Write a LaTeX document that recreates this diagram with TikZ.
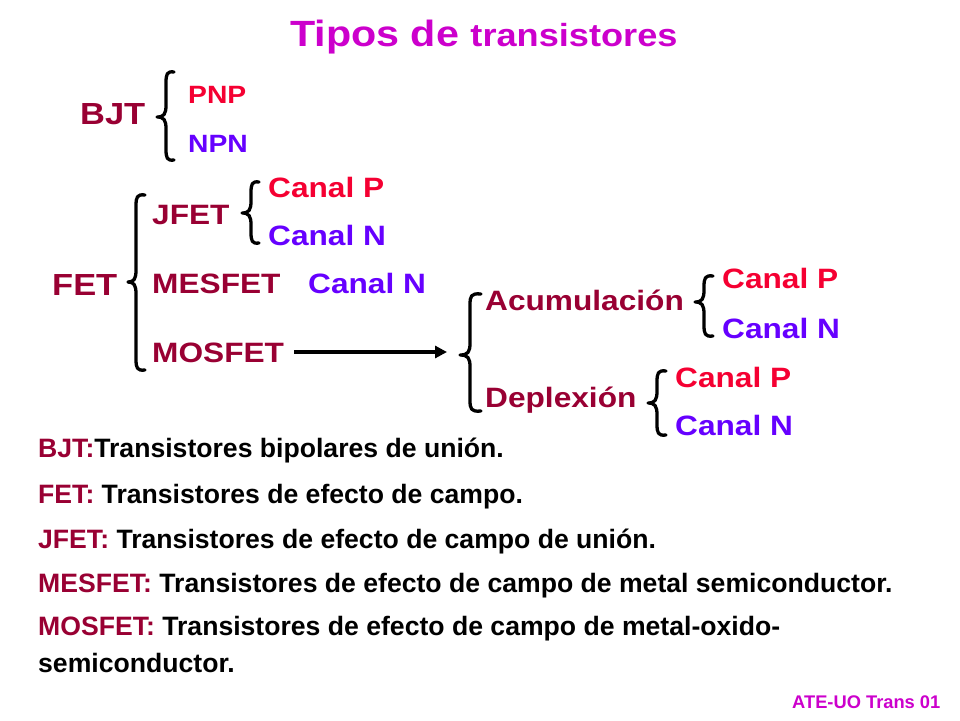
\documentclass[tikz,border=0pt]{standalone}
\usepackage{fontspec}
\setmainfont{Liberation Sans}
\newfontfamily\diagfont{Liberation Sans}[FakeStretch=1.13]
\usetikzlibrary{arrows.meta}
\definecolor{dred}{HTML}{990033}
\definecolor{pred}{HTML}{F50032}
\definecolor{ppur}{HTML}{6600FF}
\definecolor{tmag}{HTML}{CC00CC}
\tikzset{
  lvl/.style={anchor=base west, inner sep=0pt, font=\diagfont\bfseries\fontsize{28}{30}\selectfont},
  top/.style={anchor=base west, inner sep=0pt, text=dred, font=\diagfont\bfseries\fontsize{30.5}{32}\selectfont},
  small/.style={anchor=base west, inner sep=0pt, font=\diagfont\bfseries\fontsize{25}{27}\selectfont},
  desc/.style={anchor=base west, inner sep=0pt, font=\bfseries\fontsize{26.6}{28}\selectfont},
  bracestyle/.style={line width=3.3pt, line cap=round, line join=round},
}
% #1 tip x, #2 spine x, #3 end x, #4 top y, #5 tip y, #6 bottom y
\newcommand\mybrace[6]{\draw[bracestyle]
  (#3,{#4+1}) .. controls ({#2+1},#4) and (#2,{#4+3}) .. (#2,{#4+12})
  -- (#2,{#5-12}) .. controls (#2,{#5-3}) and ({#2-2},#5) .. (#1,#5)
  .. controls ({#2-2},#5) and (#2,{#5+3}) .. (#2,{#5+12})
  -- (#2,{#6-12}) .. controls (#2,{#6-3}) and ({#2+1},#6) .. (#3,{#6-1});}
\begin{document}
\begin{tikzpicture}[x=1pt,y=-1pt]
\fill[white] (0,0) rectangle (960,720);
\useasboundingbox (0,0) rectangle (960,720);
% title
\node[anchor=base west, inner sep=0pt, text=tmag, font=\diagfont\bfseries] (title) at (290,46)
  {{\fontsize{36.5}{38}\selectfont Tipos de }{\fontsize{32}{33}\selectfont transistores}};
% BJT
\node[top] (bjt) at (80,124) {BJT};
\node[small, text=pred] (pnp) at (188,103) {PNP};
\node[small, text=ppur] (npn) at (188,152) {NPN};
\mybrace{157}{166}{174}{71}{117}{161}
% FET
\node[top] (fet) at (52,295) {FET};
\mybrace{128}{136}{145}{194}{282}{371}
\node[lvl, text=dred] (jfet) at (152,224) {JFET};
\mybrace{242}{251}{259}{181}{213}{244}
\node[lvl, text=pred] (jcp) at (268,197) {Canal P};
\node[lvl, text=ppur] (jcn) at (268,245) {Canal N};
\node[lvl, text=dred] (mesfet) at (152,293) {MESFET};
\node[lvl, text=ppur] (mcn) at (308,293) {Canal N};
\node[lvl, text=dred] (mosfet) at (152,362) {MOSFET};
\coordinate (arrend) at (447,352);
\draw[line width=3.6pt, -{Triangle[length=12pt,width=12pt]}] ([xshift=10pt]mosfet.east |- arrend) -- (arrend);
% MOSFET subtree
\mybrace{460}{470}{481}{293}{355}{412}
\node[lvl, text=dred] (acum) at (485,310) {Acumulación};
\mybrace{695}{704}{713}{275}{302}{337}
\node[lvl, text=pred] (acp) at (722,288) {Canal P};
\node[lvl, text=ppur] (acn) at (722,338) {Canal N};
\node[lvl, text=dred] (depl) at (485,407) {Deplexión};
\mybrace{648}{657}{666}{370}{403}{436}
\node[lvl, text=pred] (dcp) at (675,387) {Canal P};
\node[lvl, text=ppur] (dcn) at (675,435) {Canal N};
% descriptions
\node[desc] (d1) at (38,457) {{\color{dred}BJT:}Transistores bipolares de unión.};
\node[desc] (d2) at (38,503) {{\color{dred}FET:} Transistores de efecto de campo.};
\node[desc] (d3) at (38,548) {{\color{dred}JFET:} Transistores de efecto de campo de unión.};
\node[desc] (d4) at (38,592) {{\color{dred}MESFET:} Transistores de efecto de campo de metal semiconductor.};
\node[desc] (d5) at (38,635) {{\color{dred}MOSFET:} Transistores de efecto de campo de metal-oxido-};
\node[desc] (d6) at (38,672) {semiconductor.};
% footer
\node[anchor=base west, inner sep=0pt, text=tmag, font=\bfseries\fontsize{18.3}{20}\selectfont] (foot) at (792,708) {ATE-UO Trans 01};
\end{tikzpicture}
\end{document}
